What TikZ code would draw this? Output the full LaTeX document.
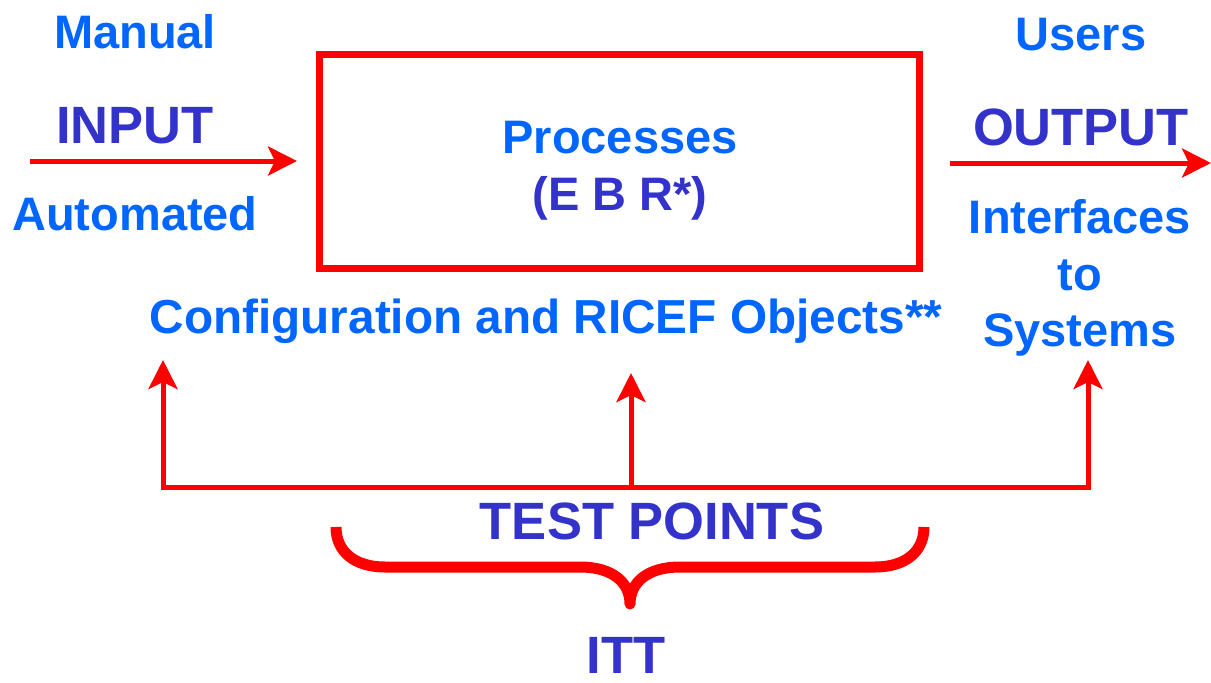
\documentclass[tikz,border=0pt]{standalone}
\usepackage{fontspec}
\setmainfont{Liberation Sans}
\usetikzlibrary{arrows.meta}
\definecolor{lblue}{RGB}{0,102,255}
\definecolor{dblue}{RGB}{51,51,204}
\definecolor{pred}{RGB}{255,0,0}
\tikzset{
  small/.style={font=\fontsize{47}{56}\selectfont\bfseries, text=lblue, inner sep=0pt, anchor=base},
  big/.style={font=\fontsize{52.5}{60}\selectfont\bfseries, text=dblue, inner sep=0pt, anchor=base},
  redline/.style={draw=pred, line width=5pt},
  redarrow/.style={redline, -{Stealth[length=29pt, width=29pt, inset=7pt]}},
  procbox/.style={draw=pred, line width=7pt},
  brace/.style={draw=pred, line width=11pt, line cap=butt, line join=round}
}
\begin{document}
\begin{tikzpicture}[x=1pt, y=-1pt]
\useasboundingbox (0,0) rectangle (1211,683);

% central process box
\draw[procbox] (319,54) rectangle (919,268);
\node[small] (proc) at (620,153) {Processes};
\node[big, font=\fontsize{47}{56}\selectfont\bfseries] (ebr) at (620,210) {(E B R*)};

% input side
\node[small] (manual) at (135,48) {Manual};
\node[big] (input) at (135,143) {INPUT};
\node[small] (auto) at (135,230) {Automated};
\coordinate (in0) at (30,161);
\coordinate (in1) at (297,161);
\draw[redarrow] (in0) -- (in1);

% output side
\node[small] (users) at (1081,50) {Users};
\node[big] (output) at (1081,145) {OUTPUT};
\node[small] (intf) at (1080,233) {Interfaces};
\node[small] (to) at (1080,290) {to};
\node[small] (sys) at (1080,346) {Systems};
\coordinate (out0) at (950,163);
\coordinate (out1) at (1211,163);
\draw[redarrow] (out0) -- (out1);

% configuration label
\node[small, font=\fontsize{47.7}{56}\selectfont\bfseries] (conf) at (546,333) {Configuration and RICEF Objects**};

% test point lines
\coordinate (bl) at (163,487);
\coordinate (br) at (1088,487);
\coordinate (bm) at (631,485);
\coordinate (tl) at (163,360);
\coordinate (tm) at (631,373);
\coordinate (tr) at (1088,360);
\draw[redline, line cap=rect] (bl) -- (br);
\draw[redarrow] (bl) -- (tl);
\draw[redarrow] (bm) -- (tm);
\draw[redarrow] (br) -- (tr);

\node[big] (tp) at (652,539) {TEST POINTS};

% curly brace
\coordinate (brl) at (336,527);
\coordinate (brr) at (924,527);
\coordinate (brtip) at (630,604);
\draw[brace] (brl) .. controls (336,552) and (355,567) .. (385,567) -- (580,567)
  .. controls (612,567) and (630,582) .. (brtip)
  .. controls (630,582) and (648,567) .. (680,567) -- (875,567)
  .. controls (905,567) and (924,552) .. (brr);

\node[big] (itt) at (626,673) {ITT};
\end{tikzpicture}
\end{document}
